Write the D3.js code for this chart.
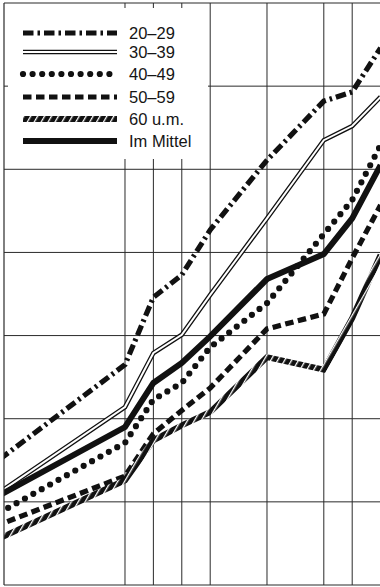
<!DOCTYPE html>
<html>
<head>
<meta charset="utf-8">
<script src="https://cdn.jsdelivr.net/npm/d3@7"></script>
<style>
  html, body { margin: 0; padding: 0; background: #fff; }
  svg { display: block; }
  .legend-text { font-family: "Liberation Sans", Arial, sans-serif; font-size: 16.5px; fill: #151515; }
</style>
</head>
<body>
<div id="chart"></div>
<script>
// x values (years); the picture is a crop, so the end points run past the frame and get clipped
const years = [1945, 1950, 1951, 1952, 1953, 1955, 1957, 1958, 1959];
const gridYears = [1950, 1951, 1952, 1953, 1955, 1957, 1958];
const yTicks = [10, 20, 30, 40, 50, 60];

const labels = ["20–29", "30–39", "40–49", "50–59", "60 u.m.", "Im Mittel"];
const age20 = [13.6, 26.5, 34.6, 37.3, 42.7, 51.1, 58.2, 59.3, 64.6];
const age30 = [9.8, 21.4, 27.9, 30.1, 34.9, 44.1, 53.5, 55.2, 58.7];
const age40 = [7.6, 17.1, 22.3, 24.3, 28.6, 33.9, 42.2, 46.3, 52.9];
const age50 = [6.5, 13.1, 18.2, 21.0, 23.7, 30.8, 32.6, 39.3, 45.7];
const age60 = [4.7, 12.6, 17.4, 19.2, 20.8, 27.4, 25.9, 32.1, 39.7];
const mean = [9.7, 19.0, 24.3, 26.7, 29.9, 36.8, 39.8, 44.1, 50.5];

const W = 380, H = 587;
const frame = {left: 4, top: 3, bottom: 585, right: 381};

const x = d3.scaleLinear().domain([1945.74, 1959]).range([frame.left, 380.6]);
const y = d3.scaleLinear().domain([0, 70]).range([frame.bottom, frame.top]);

const svg = d3.select('#chart').append('svg')
  .attr('width', W).attr('height', H);

const defs = svg.append('defs');
defs.append('clipPath').attr('id', 'plot-clip')
  .append('rect')
  .attr('x', frame.left).attr('y', frame.top)
  .attr('width', frame.right - frame.left).attr('height', frame.bottom - frame.top);

// hatch for the "60 u.m." stroke: black with slanted white slashes
const hatch = defs.append('pattern')
  .attr('id', 'hatch')
  .attr('patternUnits', 'userSpaceOnUse')
  .attr('patternTransform', 'rotate(30)')
  .attr('width', 6).attr('height', 6);
hatch.append('rect').attr('width', 6).attr('height', 6).attr('fill', '#111');
hatch.append('rect').attr('x', 0).attr('width', 1.3).attr('height', 6).attr('fill', '#fff');

const gridColor = '#2a2a2a';

// grid
const grid = svg.append('g').attr('class', 'grid');
grid.selectAll('line.v')
  .data(gridYears)
  .enter().append('line')
  .attr('class', 'v')
  .attr('x1', d => x(d)).attr('x2', d => x(d))
  .attr('y1', frame.top).attr('y2', frame.bottom)
  .attr('stroke', gridColor).attr('stroke-width', 1);

grid.selectAll('line.h')
  .data(yTicks)
  .enter().append('line')
  .attr('class', 'h')
  .attr('x1', frame.left).attr('x2', W)
  .attr('y1', d => y(d)).attr('y2', d => y(d))
  .attr('stroke', gridColor).attr('stroke-width', 1);

// series
const line = d3.line()
  .x((d, i) => x(years[i]))
  .y(d => y(d));

const plot = svg.append('g').attr('clip-path', 'url(#plot-clip)');

const styles = [
  {data: age20, draw: (g, d) => g.append('path').attr('d', d).attr('fill', 'none')
      .attr('stroke', '#111').attr('stroke-width', 5.2).attr('stroke-dasharray', '10.5 4 2.5 4')},
  {data: age30, draw: (g, d) => {
      g.append('path').attr('d', d).attr('fill', 'none').attr('stroke', '#111').attr('stroke-width', 4.6);
      g.append('path').attr('d', d).attr('fill', 'none').attr('stroke', '#fff').attr('stroke-width', 2);
    }},
  {data: age40, draw: (g, d) => g.append('path').attr('d', d).attr('fill', 'none')
      .attr('stroke', '#111').attr('stroke-width', 6.2).attr('stroke-linecap', 'round')
      .attr('stroke-dasharray', '0 9.6')},
  {data: age50, draw: (g, d) => g.append('path').attr('d', d).attr('fill', 'none')
      .attr('stroke', '#111').attr('stroke-width', 5.2).attr('stroke-dasharray', '8.5 4.5')},
  {data: age60, draw: (g, d) => g.append('path').attr('d', d).attr('fill', 'none')
      .attr('stroke', 'url(#hatch)').attr('stroke-width', 6)},
  {data: mean, draw: (g, d) => g.append('path').attr('d', d).attr('fill', 'none')
      .attr('stroke', '#111').attr('stroke-width', 6)}
];

styles.forEach(s => s.draw(plot.append('g'), line(s.data)));

// legend box covers the grid
const legend = svg.append('g').attr('id', 'legend');
legend.append('rect')
  .attr('x', frame.left).attr('y', frame.top)
  .attr('width', 204).attr('height', 156)
  .attr('fill', '#fff');

const rowY = [33, 52, 74, 97, 119, 141];
styles.forEach((s, i) => {
  const sample = d3.line()([[23, rowY[i]], [117, rowY[i]]]);
  s.draw(legend.append('g'), sample);
  legend.append('text')
    .attr('class', 'legend-text')
    .attr('x', 129).attr('y', rowY[i])
    .attr('dy', '0.36em')
    .text(labels[i]);
});

// frame and ticks
const frameG = svg.append('g');
frameG.append('line').attr('x1', frame.left).attr('x2', W).attr('y1', frame.top).attr('y2', frame.top)
  .attr('stroke', gridColor).attr('stroke-width', 1.2);
frameG.append('line').attr('x1', frame.left).attr('x2', W).attr('y1', frame.bottom).attr('y2', frame.bottom)
  .attr('stroke', gridColor).attr('stroke-width', 1.2);
frameG.append('line').attr('x1', frame.left).attr('x2', frame.left).attr('y1', frame.top).attr('y2', frame.bottom)
  .attr('stroke', gridColor).attr('stroke-width', 1.2);

frameG.selectAll('line.tick-top')
  .data(gridYears.filter(d => x(d) < 205))
  .enter().append('line')
  .attr('class', 'tick-top')
  .attr('x1', d => x(d)).attr('x2', d => x(d))
  .attr('y1', frame.top).attr('y2', frame.top + 5)
  .attr('stroke', gridColor);

frameG.selectAll('line.tick-left')
  .data(yTicks.filter(d => y(d) < 159))
  .enter().append('line')
  .attr('class', 'tick-left')
  .attr('x1', frame.left).attr('x2', frame.left + 4)
  .attr('y1', d => y(d)).attr('y2', d => y(d))
  .attr('stroke', gridColor);
</script>
</body>
</html>
